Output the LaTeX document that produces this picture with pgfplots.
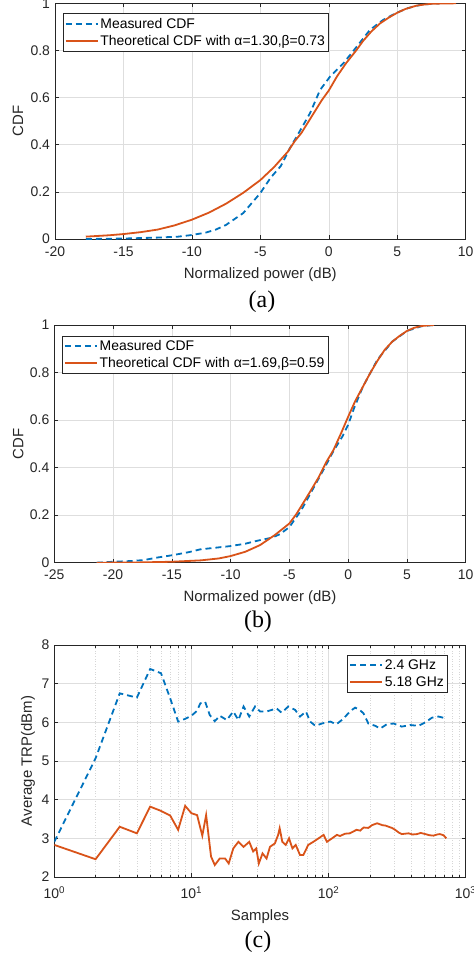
\documentclass[border=0pt]{standalone}
\usepackage{fontspec}
\setmainfont{Liberation Sans}
\newfontfamily\capfont{Liberation Serif}
\usepackage{pgfplots}
\pgfplotsset{compat=1.18}
\definecolor{mblue}{HTML}{0072BD}
\definecolor{morange}{HTML}{D95319}
\definecolor{axc}{HTML}{262626}
\definecolor{gridc}{HTML}{DEDEDE}
\definecolor{mgridc}{HTML}{D6D6D6}

\pgfplotsset{
  mstyle/.style={
    scale only axis, anchor=south west,
    axis line style={axc, line width=0.6bp},
    tick style={axc, line width=0.6bp},
    major tick length=4bp, minor tick length=2.5bp,
    tick label style={font=\fontsize{14}{16}\selectfont, text=axc},
    xticklabel style={yshift=-4bp},
    yticklabel style={xshift=-1.5bp},
    label style={font=\fontsize{15}{17}\selectfont, text=axc},
    grid=major, major grid style={gridc, line width=0.6bp},
    legend style={font=\fontsize{14}{16}\selectfont, draw=axc, line width=0.6bp,
      inner xsep=1.5bp, inner ysep=2.5bp, row sep=1.5bp, fill=white},
    legend cell align=left,
    legend image code/.code={\draw[##1] (0bp,0bp) -- (32bp,0bp);},
    /pgf/number format/assume math mode=true,
  },
  meas/.style={mblue, line width=1.8bp, dash pattern=on 6bp off 4bp},
  theo/.style={morange, line width=1.8bp},
}

\begin{document}
\begin{tikzpicture}
\useasboundingbox (0,0) rectangle (474bp,-957bp);

% (a)
\begin{axis}[mstyle, at={(55bp,-239bp)}, width=410.7bp, height=235.7bp,
  xmin=-20, xmax=10, ymin=0, ymax=1,
  xtick={-20,-15,-10,-5,0,5,10}, xticklabels={-20,-15,-10,-5,0,5,10},
  ytick={0,0.2,0.4,0.6,0.8,1}, yticklabels={0,0.2,0.4,0.6,0.8,1},
  xlabel={Normalized power (dB)}, ylabel={CDF},
  xlabel style={at={(rel axis cs:0.5,0)}, anchor=center, yshift=-36bp},
  ylabel style={at={(rel axis cs:0,0.5)}, anchor=center, yshift=37bp},
  legend style={at={(0.019,0.958)}, anchor=north west}]
\addplot[meas] coordinates {(-17.75,0.0) (-15,0.002) (-12.5,0.006) (-11,0.01) (-10,0.017) (-9,0.027) (-8.25,0.04) (-7.5,0.06) (-6.25,0.11) (-5,0.195) (-4.25,0.26) (-3.5,0.31) (-2.8,0.39) (-2.35,0.434) (-1.8,0.49) (-1.37,0.534) (-0.64,0.632) (0.09,0.689) (1.06,0.745) (2.04,0.816) (3.0,0.887) (3.98,0.93) (4.96,0.96) (5.8,0.98) (6.6,0.992) (7.5,0.998) (8.1,1.0)};
\addlegendentry{Measured CDF}
\addplot[theo] coordinates {(-17.75,0.010) (-16,0.016) (-15,0.021) (-13.75,0.029) (-12.5,0.040) (-11.25,0.058) (-10,0.082) (-8.75,0.112) (-7.5,0.150) (-6.25,0.196) (-5,0.250) (-4,0.305) (-3,0.37) (-2.5,0.414) (-2,0.45) (-1.25,0.52) (-0.5,0.59) (0,0.63) (0.6,0.69) (1.25,0.745) (2,0.80) (2.5,0.84) (3.1,0.88) (3.75,0.915) (4.4,0.94) (5,0.96) (5.6,0.976) (6.4,0.99) (7,0.995) (7.5,0.998) (8.3,0.999) (9.3,1.0)};
\addlegendentry{Theoretical CDF with α=1.30,β=0.73}
\end{axis}
\node[font=\capfont\fontsize{24}{26}\selectfont] at (262bp,-302bp) {(a)};

% (b)
\begin{axis}[mstyle, at={(54.3bp,-562.7bp)}, width=411.4bp, height=237.7bp,
  xmin=-25, xmax=10, ymin=0, ymax=1,
  xtick={-25,-20,-15,-10,-5,0,5,10}, xticklabels={-25,-20,-15,-10,-5,0,5,10},
  ytick={0,0.2,0.4,0.6,0.8,1}, yticklabels={0,0.2,0.4,0.6,0.8,1},
  xlabel={Normalized power (dB)}, ylabel={CDF},
  xlabel style={at={(rel axis cs:0.5,0)}, anchor=center, yshift=-34.6bp},
  ylabel style={at={(rel axis cs:0,0.5)}, anchor=center, yshift=36bp},
  legend style={at={(0.019,0.955)}, anchor=north west}]
\addplot[meas] coordinates {(-21.4,0.0) (-20,0.004) (-18.5,0.007) (-17.4,0.011) (-16.2,0.022) (-14.9,0.032) (-13.5,0.045) (-12.6,0.056) (-11.3,0.063) (-10,0.07) (-8.75,0.08) (-7.5,0.095) (-6.5,0.105) (-5.8,0.12) (-5,0.15) (-4,0.22) (-3,0.31) (-2,0.40) (-1.25,0.47) (-0.5,0.53) (0,0.58) (0.5,0.65) (1.25,0.74) (2.5,0.855) (3.75,0.93) (5,0.975) (6.25,0.995) (7.3,1.0)};
\addlegendentry{Measured CDF}
\addplot[theo] coordinates {(-21.4,0.0) (-18,0.001) (-15,0.004) (-12.5,0.01) (-11,0.018) (-10,0.028) (-8.75,0.046) (-7.5,0.074) (-6.25,0.116) (-5,0.165) (-4.4,0.205) (-3.75,0.257) (-3.1,0.31) (-2.5,0.36) (-1.9,0.42) (-1.25,0.474) (-0.6,0.545) (0,0.614) (0.6,0.68) (1.25,0.74) (1.9,0.80) (2.5,0.85) (3.1,0.895) (3.75,0.93) (4.4,0.955) (5,0.975) (5.6,0.988) (6.25,0.996) (7.3,1.0)};
\addlegendentry{Theoretical CDF with α=1.69,β=0.59}
\end{axis}
\node[font=\capfont\fontsize{24}{26}\selectfont] at (258bp,-622bp) {(b)};

% (c)
\begin{axis}[mstyle, at={(54.3bp,-877bp)}, width=411.4bp, height=232bp,
  xmode=log, xmin=1, xmax=1000, ymin=2, ymax=8,
  xtick={1,10,100,1000},
  xticklabels={10\textsuperscript{0},10\textsuperscript{1},10\textsuperscript{2},10\textsuperscript{3}},
  xticklabel style={yshift=-2bp},
  ytick={2,3,4,5,6,7,8}, yticklabels={2,3,4,5,6,7,8},
  xminorgrids=true, minor x grid style={mgridc, line width=0.6bp, dotted},
  xlabel={Samples}, ylabel={Average TRP(dBm)},
  xlabel style={at={(rel axis cs:0.5,0)}, anchor=center, yshift=-40bp},
  ylabel style={at={(rel axis cs:0,0.5)}, anchor=center, yshift=26.3bp},
  legend style={at={(0.956,0.957)}, anchor=north east}]
\addplot[meas] coordinates {(1,2.91)(2,5.07)(3,6.75)(4,6.64)(5,7.38)(6,7.27)(7,6.62)(8,6.02)(9,6.09)(10,6.17)(11,6.3)(11.6,6.49)(12.6,6.53)(13.6,6.19)(14.8,6.03)(16.1,6.17)(18.1,6.06)(20.2,6.28)(22,6.06)(24,6.41)(26.4,6.15)(29.1,6.41)(31.7,6.28)(35.3,6.28)(38.4,6.32)(41.8,6.36)(45.4,6.25)(50.9,6.41)(57.1,6.32)(61.9,6.15)(68.4,6.28)(73.4,6.02)(80.1,5.91)(89.5,5.97)(103,6.02)(114,5.95)(128,6.09)(143,6.28)(156,6.38)(169,6.32)(180,6.23)(195,5.97)(219,5.91)(238,5.84)(266,5.95)(298,5.97)(342,5.89)(394,5.93)(453,5.91)(508,6.0)(567,6.12)(633,6.15)(722,6.1)};
\addlegendentry{2.4 GHz}
\addplot[theo] coordinates {(1,2.83)(2,2.46)(3,3.30)(4,3.13)(5,3.82)(6,3.71)(7,3.59)(8,3.22)(9,3.84)(10,3.65)(11,3.60)(12,3.07)(12.8,3.6)(13.9,2.53)(14.8,2.31)(16.1,2.48)(17.6,2.48)(18.7,2.35)(20.2,2.74)(22,2.91)(24,2.78)(26.4,2.91)(28.2,2.66)(29.7,2.74)(31,2.35)(33,2.61)(35.3,2.48)(37.4,2.78)(40.6,2.87)(42.9,3.09)(44,3.26)(46,2.91)(48.7,2.83)(51.5,3.0)(54.5,2.74)(57.6,2.83)(61.9,2.57)(65.5,2.57)(71.1,2.83)(77.4,2.91)(84.5,3.0)(92,3.09)(97.3,2.91)(106,3.0)(115,3.09)(121,3.06)(132,3.12)(143,3.13)(152,3.18)(160,3.22)(170,3.2)(180,3.28)(195,3.27)(207,3.34)(226,3.39)(247,3.34)(260,3.33)(274,3.30)(290,3.27)(306,3.22)(325,3.15)(342,3.11)(383,3.13)(410,3.1)(441,3.11)(470,3.14)(508,3.11)(545,3.08)(583,3.07)(620,3.1)(648,3.11)(690,3.08)(722,3.0)};
\addlegendentry{5.18 GHz}
\end{axis}
\node[font=\capfont\fontsize{24}{26}\selectfont] at (258bp,-942bp) {(c)};
\end{tikzpicture}
\end{document}
